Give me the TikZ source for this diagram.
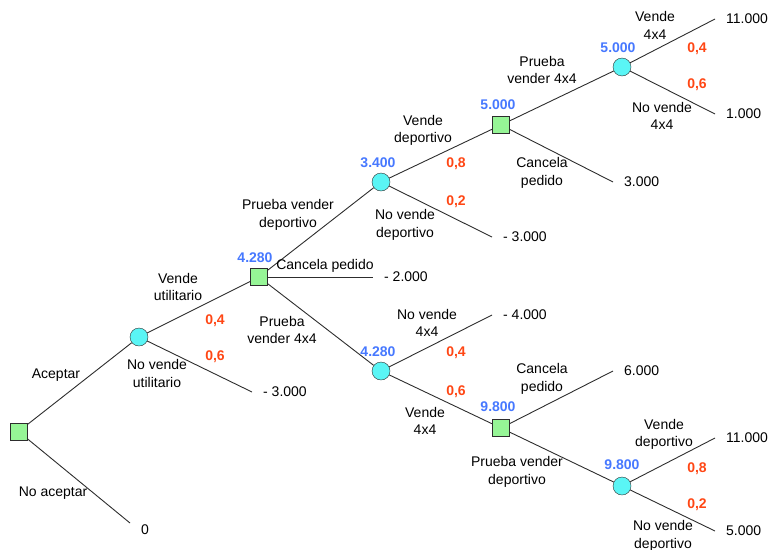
\documentclass[tikz,border=0pt]{standalone}
\usepackage{fontspec}
\setmainfont{Liberation Sans}
\usetikzlibrary{positioning}
\definecolor{valblue}{RGB}{70,120,255}
\definecolor{probred}{RGB}{255,70,20}
\definecolor{chcfill}{RGB}{90,245,245}
\definecolor{decfill}{RGB}{150,245,150}
\definecolor{linegray}{RGB}{45,45,45}

\begin{document}
\begin{tikzpicture}[
  x=1pt, y=-1pt,
  font=\fontsize{14}{17.5}\selectfont,
  dec/.style={rectangle, draw=linegray, fill=decfill, minimum size=17pt, inner sep=0pt},
  chc/.style={circle, draw=linegray, fill=chcfill, minimum size=18pt, inner sep=0pt},
  lbl/.style={align=center, inner sep=0pt},
  prob/.style={font=\fontsize{14}{17.5}\selectfont\bfseries, text=probred, inner sep=0pt},
  val/.style={font=\fontsize{14}{17.5}\selectfont\bfseries, text=valblue, inner sep=0pt},
  pay/.style={inner sep=0pt},
  br/.style={draw=linegray, line width=0.9pt}
]
  \useasboundingbox (0,0) rectangle (770,549);

  \node[dec] (d0) at (18.5,431.5) {};
  \node[chc] (c1) at (139,337) {};
  \node[dec] (d1) at (259,277) {};
  \node[chc] (c2) at (381,182) {};
  \node[dec] (d2) at (501,125) {};
  \node[chc] (c3) at (622,67) {};
  \node[chc] (c4) at (381,371) {};
  \node[dec] (d3) at (501,428) {};
  \node[chc] (c5) at (622,486) {};

  \coordinate (e0) at (130,523);
  \coordinate (e1) at (252,392);
  \coordinate (e2) at (373,277);
  \coordinate (e3) at (492,237);
  \coordinate (e4) at (613,182);
  \coordinate (e5) at (715,19);
  \coordinate (e6) at (715,114);
  \coordinate (e7) at (492,315);
  \coordinate (e8) at (613,371);
  \coordinate (e9) at (715,438);
  \coordinate (e10) at (715,531);

  \node[pay, right=11pt of e0, yshift=-7pt] (p0) {0};
  \node[pay, right=11pt of e1] (p1) {- 3.000};
  \node[pay, right=11pt of e2] (p2) {- 2.000};
  \node[pay, right=11pt of e3] (p3) {- 3.000};
  \node[pay, right=11pt of e4] (p4) {3.000};
  \node[pay, right=11pt of e5] (p5) {11.000};
  \node[pay, right=11pt of e6] (p6) {1.000};
  \node[pay, right=11pt of e7] (p7) {- 4.000};
  \node[pay, right=11pt of e8] (p8) {6.000};
  \node[pay, right=11pt of e9] (p9) {11.000};
  \node[pay, right=11pt of e10] (p10) {5.000};

  \draw[br] (d0) -- (c1);
  \draw[br] (d0) -- (e0);
  \draw[br] (c1) -- (d1);
  \draw[br] (c1) -- (e1);
  \draw[br] (d1) -- (c2);
  \draw[br] (d1) -- (e2);
  \draw[br] (d1) -- (c4);
  \draw[br] (c2) -- (d2);
  \draw[br] (c2) -- (e3);
  \draw[br] (d2) -- (c3);
  \draw[br] (d2) -- (e4);
  \draw[br] (c3) -- (e5);
  \draw[br] (c3) -- (e6);
  \draw[br] (c4) -- (e7);
  \draw[br] (c4) -- (d3);
  \draw[br] (d3) -- (e8);
  \draw[br] (d3) -- (c5);
  \draw[br] (c5) -- (e9);
  \draw[br] (c5) -- (e10);

  \node[lbl] (l0) at (56,375) {Aceptar};
  \node[lbl] (l1) at (53,493) {No aceptar};
  \node[lbl] (l2) at (178,287) {Vende\\utilitario};
  \node[lbl] (l3) at (157,373.5) {No vende\\utilitario};
  \node[lbl] (l4) at (288,215) {Prueba vender\\deportivo};
  \node[lbl] (l5) at (325,266) {Cancela pedido};
  \node[lbl] (l6) at (282,330) {Prueba\\vender 4x4};
  \node[lbl] (l7) at (423,130.5) {Vende\\deportivo};
  \node[lbl] (l8) at (405,225) {No vende\\deportivo};
  \node[lbl] (l9) at (542,70) {Prueba\\vender 4x4};
  \node[lbl] (l10) at (542,173) {Cancela\\pedido};
  \node[lbl] (l11) at (655,25.5) {Vende\\4x4};
  \node[lbl] (l12) at (662,116) {No vende\\4x4};
  \node[lbl] (l13) at (427,323) {No vende\\4x4};
  \node[lbl] (l14) at (425,421) {Vende\\4x4};
  \node[lbl] (l15) at (542,379) {Cancela\\pedido};
  \node[lbl] (l16) at (517,472) {Prueba vender\\deportivo};
  \node[lbl] (l17) at (664,434.5) {Vende\\deportivo};
  \node[lbl] (l18) at (663,536) {No vende\\deportivo};

  \node[prob] (q1) at (215,321) {0,4};
  \node[prob] (q2) at (215,357) {0,6};
  \node[prob] (q3) at (456,164) {0,8};
  \node[prob] (q4) at (456,202) {0,2};
  \node[prob] (q5) at (697,49) {0,4};
  \node[prob] (q6) at (697,85) {0,6};
  \node[prob] (q7) at (456,353) {0,4};
  \node[prob] (q8) at (456,392) {0,6};
  \node[prob] (q9) at (697,469) {0,8};
  \node[prob] (q10) at (697,505) {0,2};

  \node[val] (v1) at (255,258) {4.280};
  \node[val] (v2) at (378,163) {3.400};
  \node[val] (v3) at (498,105) {5.000};
  \node[val] (v4) at (618,48) {5.000};
  \node[val] (v5) at (378,352) {4.280};
  \node[val] (v6) at (498,407) {9.800};
  \node[val] (v7) at (622,465) {9.800};
\end{tikzpicture}
\end{document}
